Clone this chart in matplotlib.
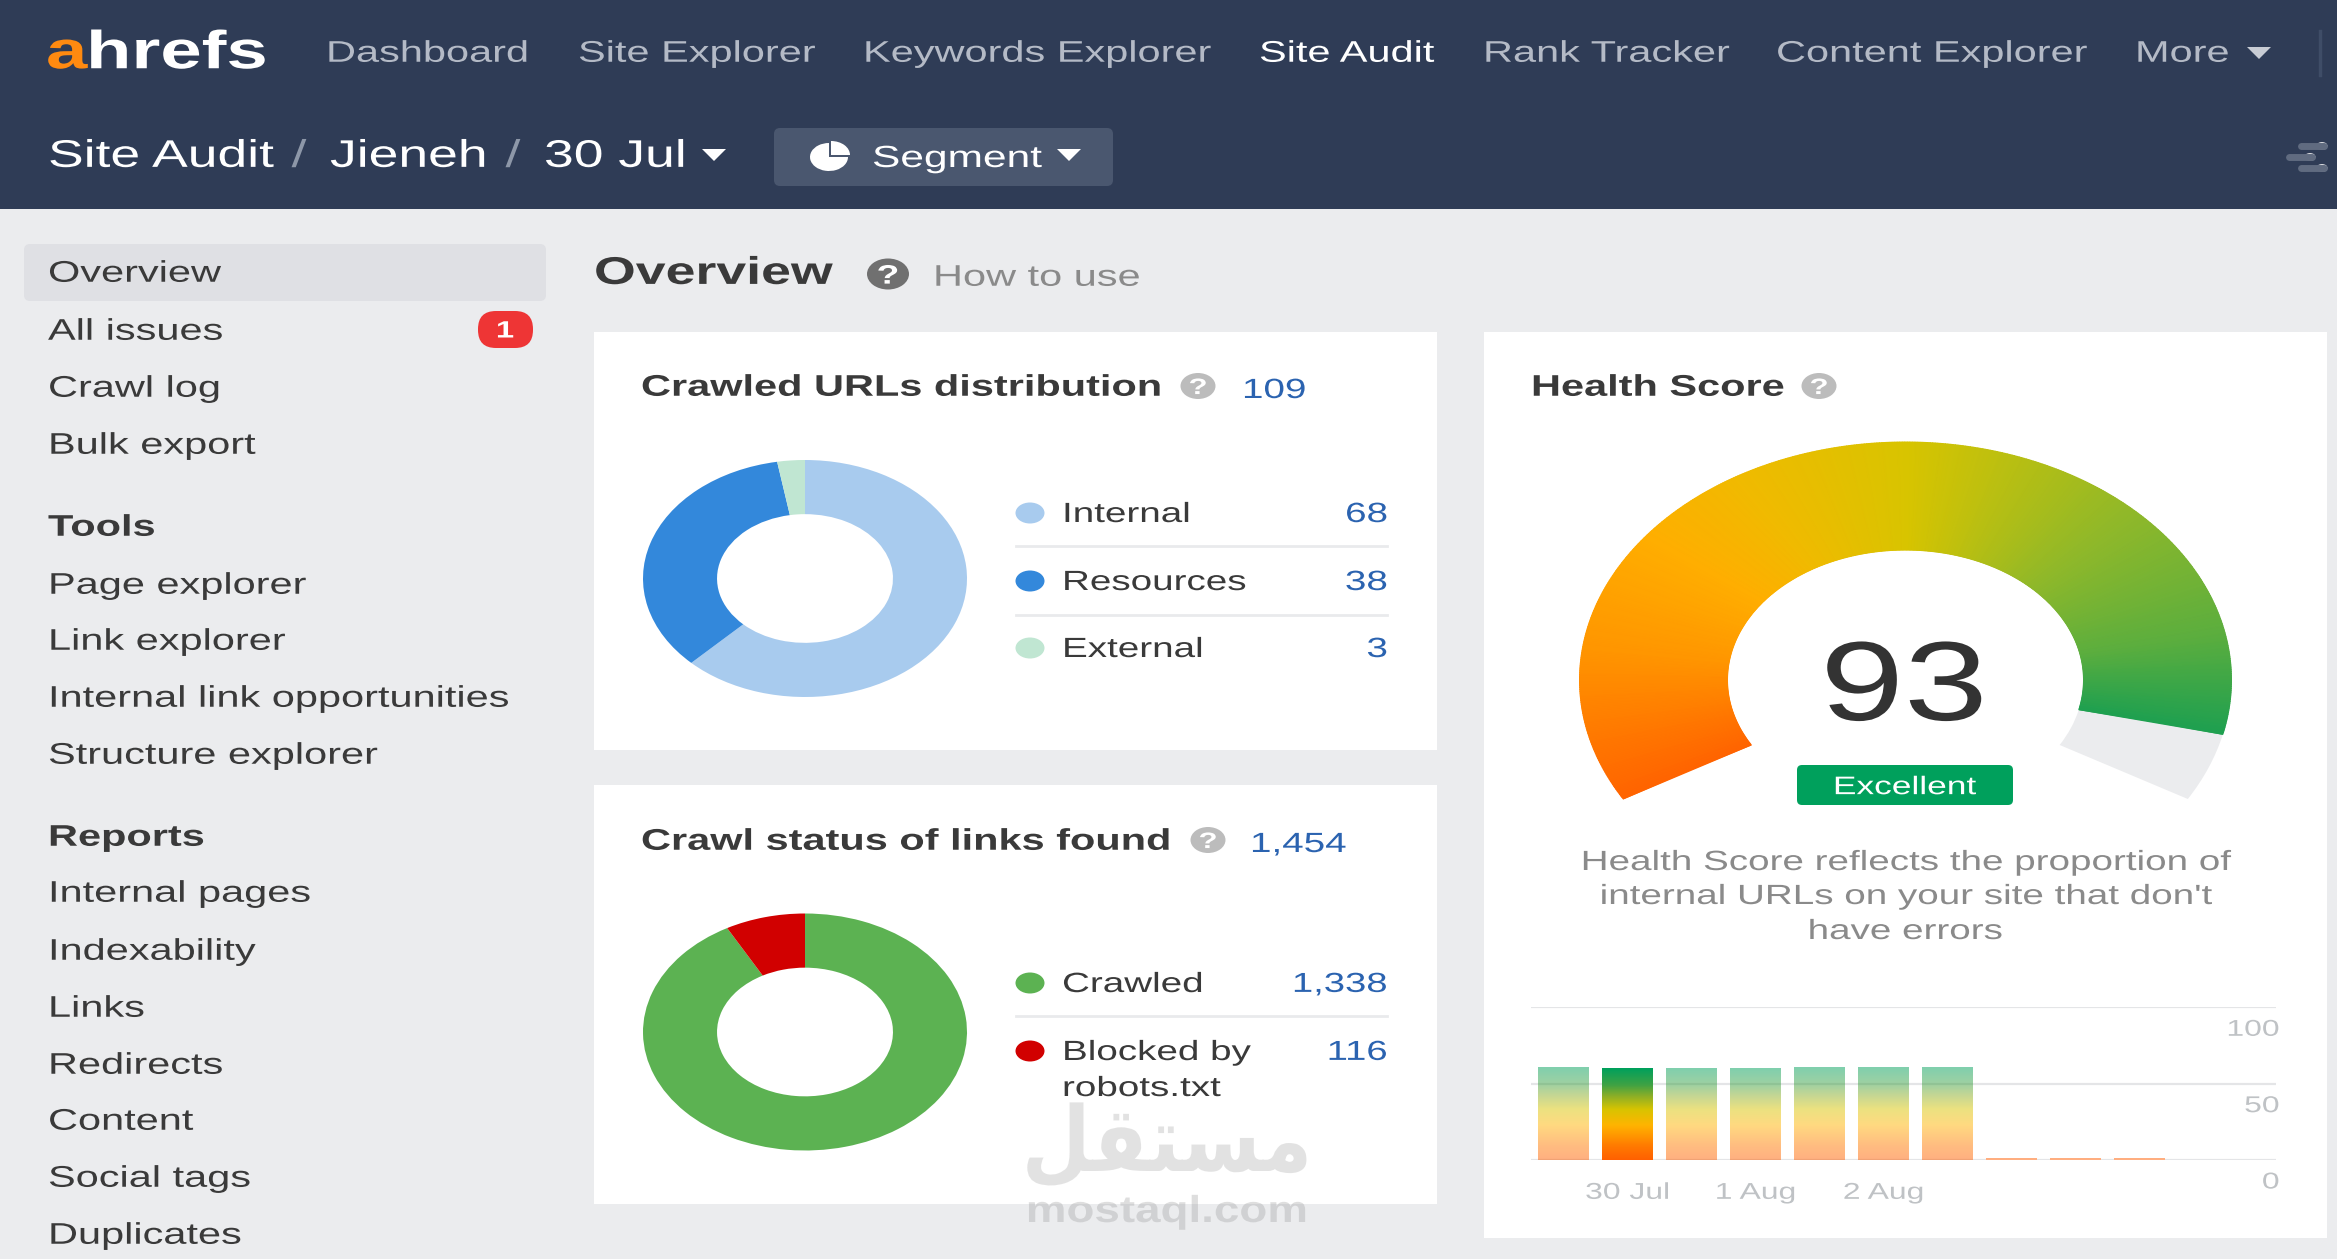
import numpy as np
import matplotlib
matplotlib.use('Agg')
import matplotlib.pyplot as plt
import matplotlib.patheffects as pe
from matplotlib.colors import LinearSegmentedColormap
from matplotlib.patches import Rectangle, FancyBboxPatch, Ellipse, Wedge
from matplotlib.transforms import Affine2D

plt.rcParams['font.family'] = ['Liberation Sans', 'DejaVu Sans']

W, H = 2337, 1259

nav_items = ['Dashboard', 'Site Explorer', 'Keywords Explorer', 'Site Audit',
             'Rank Tracker', 'Content Explorer', 'More']
nav_x = [326, 578, 863, 1259, 1483, 1776, 2135]

side_items = ['Overview', 'All issues', 'Crawl log', 'Bulk export', 'Tools',
              'Page explorer', 'Link explorer', 'Internal link opportunities',
              'Structure explorer', 'Reports', 'Internal pages', 'Indexability',
              'Links', 'Redirects', 'Content', 'Social tags', 'Duplicates']
side_y = [271, 329, 386, 443, 525, 583, 639, 696, 753, 835, 891, 949, 1006,
          1063, 1119, 1176, 1233]
side_bold = ['Tools', 'Reports']

url_labels = ['Internal', 'Resources', 'External']
url_values = [68, 38, 3]
url_colors = ['#a8cbee', '#3388db', '#c0e6d2']
url_total = 109

link_labels = ['Crawled', 'Blocked by\nrobots.txt']
link_values = [1338, 116]
link_colors = ['#5cb252', '#d10000']
link_total = 1454

score = 93
gauge_span = 240
gauge_stops = [(0.0, '#ff6400'), (0.17, '#ff9600'), (0.3, '#ffae00'), (0.4, '#f0ba00'),
               (0.54, '#d8c400'), (0.74, '#8fb82a'), (0.89, '#5cae3e'),
               (1.0, '#1fa050')]

history_y = [60.7, 60.1, 60.1, 60.1, 60.7, 60.7, 60.7, 1.5, 1.5, 1.5]
history_labels = {1: '30 Jul', 3: '1 Aug', 5: '2 Aug'}
history_ticks = [100, 50, 0]
history_current = 1
bar_stops = [(0.0, '#00a05c'), (0.18, '#3ea244'), (0.3, '#8aae28'), (0.45, '#d8c400'),
             (0.62, '#ffb400'), (0.85, '#ff7a00'), (1.0, '#ff6000')]

health_text = ['Health Score reflects the proportion of',
               "internal URLs on your site that don't",
               'have errors']

HEADER = '#2f3c56'
BG = '#ebecee'
DARK = '#3a3a3a'
BLUE = '#2b63b0'
GREY = '#8a8a8a'
LINE = '#e9eaec'
TICK = '#bfc2c5'


# the screenshot was stretched sideways, so the text is too
class Stretch(pe.AbstractPathEffect):
    def __init__(self, text, k):
        super().__init__()
        self.text = text
        self.k = k

    def draw_path(self, renderer, gc, tpath, affine, rgbFace=None):
        a = self.text.get_transform().transform(self.text.get_unitless_position())[0]
        wide = Affine2D().translate(-a, 0).scale(self.k, 1).translate(a, 0)
        renderer.draw_path(gc, tpath, affine + wide, rgbFace)


def stretch(t, k=1.39):
    t.set_path_effects([Stretch(t, k)])
    return t


fig = plt.figure(figsize=(W / 100, H / 100), dpi=100, facecolor=BG)
ui = fig.add_axes([0, 0, 1, 1], zorder=0)
over = fig.add_axes([0, 0, 1, 1], zorder=5)
for a in [ui, over]:
    a.set_xlim(0, W)
    a.set_ylim(H, 0)
    a.axis('off')


def put(x, y, s, size=21.5, color=DARK, ha='left', weight='normal', k=1.39, **kw):
    return stretch(over.text(x, y + size * 0.5, s, fontsize=size, color=color, ha=ha,
                             va='baseline', fontweight=weight, **kw), k)


def box(x0, y0, x1, y1, color, r=6):
    ui.add_patch(FancyBboxPatch((x0, y0), x1 - x0, y1 - y0, fc=color, ec='none',
                                boxstyle=f'round,pad=0,rounding_size={r}'))


def caret(x, y, color='white', w=12, h=6):
    ui.fill([x - w, x + w, x], [y - h, y - h, y + h], color=color, lw=0)


def help_icon(x, y, color='#bcbcbc', w=35, h=26):
    ui.add_patch(Ellipse((x, y), w, h, fc=color, ec='none'))
    put(x, y, '?', size=h * 0.62, color='white', ha='center', weight='bold')


def axes_px(x0, y0, x1, y1):
    return fig.add_axes([x0 / W, 1 - y1 / H, (x1 - x0) / W, (y1 - y0) / H])


# header
ui.add_patch(Rectangle((0, 0), W, 209, fc=HEADER, ec='none'))
put(46, 49, 'a', size=38.5, color='#ff8a10', weight='bold')
put(86, 49, 'hrefs', size=38.5, color='white', weight='bold')
for name, x in zip(nav_items, nav_x):
    c = 'white' if name == 'Site Audit' else '#b4bac6'
    put(x, 51, name, color=c)
caret(2259, 53, '#c8ccd4')
ui.plot([2320, 2320], [31, 75], color='#3f4d67', lw=2.5)

put(48, 153, 'Site Audit', size=27.7, color='white')
put(299, 153, '/', size=27.7, color='#8d97a8', ha='center')
put(330, 153, 'Jieneh', size=27.7, color='white')
put(513, 153, '/', size=27.7, color='#8d97a8', ha='center')
put(544, 153, '30 Jul', size=27.7, color='white')
caret(714, 155)
box(774, 128, 1113, 186, '#4a576f')
icon = Affine2D().scale(19, 14).translate(829, 157) + ui.transData
ui.add_patch(Wedge((0, 0), 1, 0, 270, fc='white', ec='none', transform=icon))
icon = Affine2D().scale(19, 14).translate(831, 155) + ui.transData
ui.add_patch(Wedge((0, 0), 1, 270, 360, fc='white', ec='none', transform=icon))
put(872, 156, 'Segment', size=22, color='white')
caret(1069, 155)
for y, x0 in zip([146, 157, 168], [2298, 2286, 2298]):
    ui.plot([x0 + 3, x0 + 26], [y, y], color='#606b80', lw=5, solid_capstyle='round')
    ui.add_patch(Ellipse((x0 + 24, y), 11, 8, fc='#d8dade', ec='none'))

# sidebar
box(24, 244, 546, 301, '#dfe0e4')
for name, y in zip(side_items, side_y):
    put(48, y, name, weight='bold' if name in side_bold else 'normal')
box(478, 311, 533, 348, '#ee3535', r=18)
put(505, 329, '1', size=17, color='white', ha='center', weight='bold')

put(594, 270, 'Overview', size=27.8, weight='bold')
help_icon(888, 274, '#707070', 42, 31)
put(933, 275, 'How to use', color=GREY)

# cards
ui.add_patch(Rectangle((594, 332), 843, 418, fc='white', ec='none'))
ui.add_patch(Rectangle((594, 785), 843, 419, fc='white', ec='none'))
ui.add_patch(Rectangle((1484, 332), 843, 906, fc='white', ec='none'))

put(641, 385, 'Crawled URLs distribution', weight='bold')
help_icon(1198, 386)
put(1242, 388, f'{url_total}', size=20, color=BLUE)
put(641, 839, 'Crawl status of links found', weight='bold')
help_icon(1208, 840)
put(1250, 842, f'{link_total:,}', size=20, color=BLUE)
put(1531, 385, 'Health Score', weight='bold')
help_icon(1819, 386)


def donut(cy, values, colors):
    ax = axes_px(643, cy - 118.5, 967, cy + 118.5)
    ax.set_zorder(1)
    ax.pie(values, colors=colors, startangle=90, counterclock=False, radius=1,
           wedgeprops={'width': 0.457, 'linewidth': 0})
    ax.set_aspect('auto')
    ax.set_xlim(-1, 1)
    ax.set_ylim(-1, 1)
    ax.patch.set_alpha(0)


donut(578.5, url_values, url_colors)
donut(1032, link_values, link_colors)

for name, v, c, y in zip(url_labels, url_values, url_colors, [512, 580, 647]):
    ui.add_patch(Ellipse((1030, y + 1), 29, 21, fc=c, ec='none'))
    put(1062, y, name, size=20)
    put(1388, y, f'{v}', size=20, color=BLUE, ha='right')
for y in [546, 615]:
    ui.plot([1016, 1387], [y, y], color=LINE, lw=2)

for name, v, c, y in zip(link_labels, link_values, link_colors, [982, 1050]):
    ui.add_patch(Ellipse((1030, y + 1), 29, 21, fc=c, ec='none'))
    for i, part in enumerate(name.split('\n')):
        put(1062, y + i * 36, part, size=20)
    put(1388, y, f'{v:,}', size=19.8, color=BLUE, ha='right')
ui.plot([1016, 1387], [1016, 1016], color=LINE, lw=2)

# gauge
gauge = axes_px(1905.5 - 326, 680 - 238, 1905.5 + 326, 680 + 238)
gauge.set_zorder(1)
gauge.set_xlim(-1, 1)
gauge.set_ylim(-1, 1)
gauge.axis('off')
start = 210
end = start - gauge_span * score / 100
stop = start - gauge_span
rr = np.array([0.546, 1.0])
rest = Wedge((0, 0), 1, stop, end, width=0.454, fc=BG, ec='none', clip_on=False)
gauge.add_patch(rest)
theta = np.radians(np.linspace(start, end, 500))
gauge_cmap = LinearSegmentedColormap.from_list('gauge', gauge_stops)
shade = np.tile(np.linspace(0, 1, 500), (2, 1))
gauge.pcolormesh(np.outer(rr, np.cos(theta)), np.outer(rr, np.sin(theta)), shade,
                 cmap=gauge_cmap, shading='gouraud', clip_on=False)

stretch(over.text(1904, 720, f'{score}', fontsize=81, color='#333333', ha='center',
                  va='baseline'), 1.34)
box(1797, 765, 2013, 805, '#00a05c', r=5)
put(1905, 785, 'Excellent', size=18.3, color='white', ha='center')
for line, y in zip(health_text, [860, 894, 929]):
    put(1905, y, line, size=20, color=GREY, ha='center')

# history bars
hist = axes_px(1531, 1007.3, 2275.6, 1160)
hist.set_zorder(2)
hist.patch.set_alpha(0)
for s in hist.spines.values():
    s.set_visible(False)
hist.set_yticks(history_ticks)
hist.set_yticklabels([])
hist.grid(axis='y', color='#e4e5e7', lw=1.6)
hist.set_axisbelow(True)
hist.tick_params(length=0)
hist.set_xticks(list(history_labels))
hist.set_xticklabels(list(history_labels.values()), fontsize=16.5, color=TICK)
hist.tick_params(axis='x', pad=15)
for t in hist.get_xticklabels():
    stretch(t)
for v in history_ticks:
    stretch(hist.annotate(f'{v}', xy=(1, v), xycoords=hist.get_yaxis_transform(),
                          xytext=(4, -22), textcoords='offset pixels', ha='right',
                          va='center', fontsize=16.5, color=TICK))

bar_cmap = LinearSegmentedColormap.from_list('bars', bar_stops)
bars = hist.bar(range(len(history_y)), history_y, width=0.79, color='#ffae80')
grad = np.linspace(0, 1, 200).reshape(-1, 1)
for i, b in enumerate(bars):
    if b.get_height() < 10:
        continue
    b.set_visible(False)
    hist.imshow(grad, cmap=bar_cmap, aspect='auto', origin='upper', zorder=1,
                alpha=1.0 if i == history_current else 0.5,
                extent=(b.get_x(), b.get_x() + b.get_width(), 0, b.get_height()))
hist.set_xlim(-0.508, 11.127)
hist.set_ylim(0, 100)

# watermark
stretch(over.text(1167, 1146, '\ufede\ufed8\ufe98\ufeb4\ufee3', fontsize=65,
                  family='DejaVu Sans', color='#9a9a9a', alpha=0.28, ha='center',
                  va='center', fontweight='bold'), 0.88)
stretch(over.text(1167, 1222, 'mostaql.com', fontsize=27, color='#9a9a9a', alpha=0.32,
                  ha='center', va='baseline', fontweight='bold'), 1.22)

fig.savefig('out.png', dpi=100, facecolor=BG)
